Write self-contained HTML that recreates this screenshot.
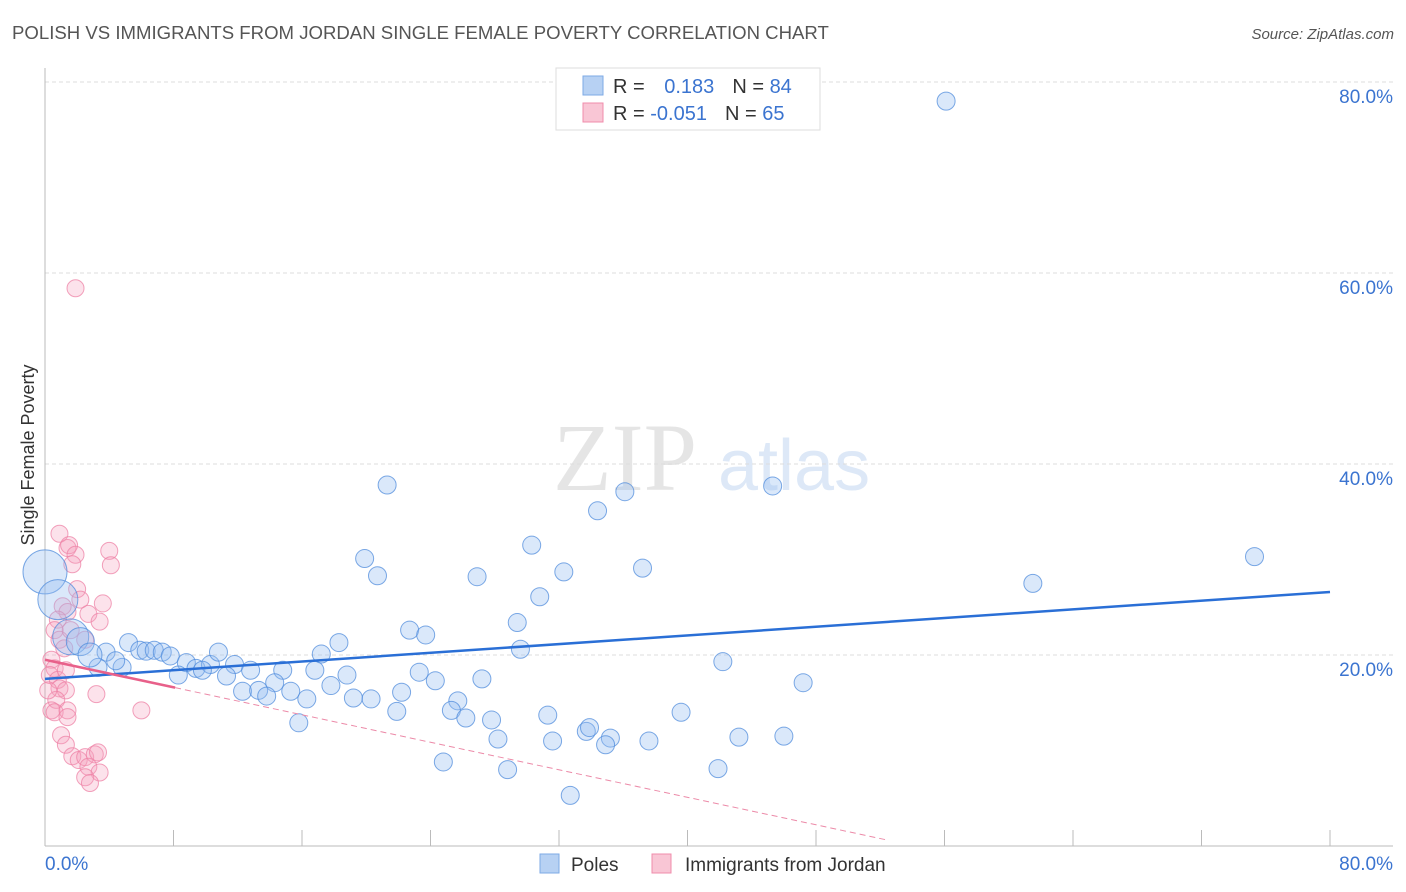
<!DOCTYPE html>
<html><head><meta charset="utf-8"><style>
body{margin:0;background:#fff;font-family:"Liberation Sans",sans-serif}
svg{display:block}
</style></head><body>
<svg id="chart" width="1406" height="892" viewBox="0 0 1406 892">
<text x="12" y="39" font-size="18.6" fill="#555">POLISH VS IMMIGRANTS FROM JORDAN SINGLE FEMALE POVERTY CORRELATION CHART</text>
<text x="1394" y="39" font-size="15" fill="#555" font-style="italic" text-anchor="end">Source: ZipAtlas.com</text>
<g opacity="0.5">
<text x="553" y="490" font-family="Liberation Serif,serif" font-size="96" fill="#ccc">ZIP</text>
<text x="718" y="490" font-size="72" fill="#bcd3f0">atlas</text>
</g>
<g id="grid"></g>
<g id="axes"></g>
<g id="pinkPts"></g>
<g id="bluePts"></g>
<g id="lines"></g>
<text transform="translate(34,455) rotate(-90)" font-size="18" fill="#333" text-anchor="middle">Single Female Poverty</text>
<g>
<rect x="556" y="68" width="264" height="62" fill="#fff" stroke="#ddd"/>
<rect x="583" y="76" width="20" height="19" fill="#b7d1f3" stroke="#7eaae6"/>
<rect x="583" y="103" width="20" height="19" fill="#f9c6d5" stroke="#f08cab"/>
<text x="613" y="93" font-size="20" fill="#333">R = <tspan fill="#3b74d0" dx="14">0.183</tspan><tspan dx="18" fill="#333">N = </tspan><tspan fill="#3b74d0">84</tspan></text>
<text x="613" y="120" font-size="20" fill="#333">R = <tspan fill="#3b74d0">-0.051</tspan><tspan dx="18" fill="#333">N = </tspan><tspan fill="#3b74d0">65</tspan></text>
</g>
<g>
<rect x="540" y="854" width="19" height="19" fill="#b7d1f3" stroke="#7eaae6"/>
<text x="571" y="871" font-size="19" fill="#333">Poles</text>
<rect x="652" y="854" width="19" height="19" fill="#f9c6d5" stroke="#f08cab"/>
<text x="685" y="871" font-size="19" fill="#333">Immigrants from Jordan</text>
</g>
</svg>
<script>
const yTicks=[20,40,60,80];
const xTickLabels=["0.0%","80.0%"];
const blueX=[56.1,21.3,36.1,45.3,34.4,30.3,19.9,75.3,20.7,26.9,32.3,37.2,61.5,30.8,29.4,22.7,23.7,18.3,29.6,17.2,5.2,3.8,5.9,6.3,6.8,7.3,7.8,8.8,9.4,10.3,10.8,11.8,12.8,14.8,16.8,3.3,4.8,4.4,8.3,9.8,11.3,14.3,18.8,23.3,24.3,27.2,42.2,47.2,12.3,13.3,13.8,15.3,16.3,17.8,19.2,20.3,22.2,21.9,25.7,25.3,26.2,27.8,31.3,39.6,15.8,33.7,33.9,35.2,34.9,28.2,31.6,37.6,43.2,46.0,24.8,28.8,41.9,32.7,0,0.8,1.6,2.2,2.8];
const blueY=[78.0,37.8,37.1,37.7,35.1,31.5,30.1,30.3,28.3,28.2,28.7,29.1,27.5,26.1,23.4,22.6,22.1,21.3,20.6,20.1,21.3,20.3,20.5,20.4,20.5,20.3,19.9,19.2,18.6,19.0,20.3,19.0,18.4,18.4,18.4,18.7,18.7,19.4,17.9,18.4,17.8,17.1,17.9,18.2,17.3,17.5,19.3,17.1,16.2,16.3,15.7,16.2,15.4,16.8,15.5,15.4,16.1,14.1,15.2,14.2,13.4,13.2,13.7,14.0,12.9,12.0,12.4,11.3,10.6,11.2,11.0,11.0,11.4,11.5,8.8,8.0,8.1,5.3,28.7,25.8,21.9,21.4,20.0];
const blueR=[9,9,9,9,9,9,9,9,9,9,9,9,9,9,9,9,9,9,9,9,9,9,9,9,9,9,9,9,9,9,9,9,9,9,9,9,9,9,9,9,9,9,9,9,9,9,9,9,9,9,9,9,9,9,9,9,9,9,9,9,9,9,9,9,9,9,9,9,9,9,9,9,9,9,9,9,9,9,22,20,18,14,12];
const pinkX=[1.9,0.9,1.4,1.5,1.9,4.0,4.1,1.7,2.0,2.2,3.6,1.1,1.4,2.7,3.4,0.8,0.6,0.9,1.2,0.4,0.6,0.3,0.8,0.9,1.3,3.2,0.7,0.4,0.6,1.4,1.4,6.0,1.0,1.3,1.7,2.1,2.5,3.1,3.3,2.7,3.4,2.5,2.8,1.3,0.2,1.6,2.5];
const pinkY=[58.4,32.7,31.2,31.5,30.5,30.9,29.4,29.5,26.9,25.8,25.4,25.1,24.5,24.3,23.5,23.7,22.6,21.6,20.7,19.5,18.6,17.9,17.4,16.5,16.3,15.9,15.3,14.2,14.0,14.2,13.5,14.2,11.6,10.6,9.4,9.0,9.3,9.6,9.8,8.3,7.7,7.2,6.6,18.4,16.3,22.6,21.6];
const blueFit=[17.5,26.6];
const pinkFit=[19.5,-0.36];
const pinkSolidEnd=8.1, pinkDashEnd=52.3;
const NS="http://www.w3.org/2000/svg";
const X0=45,X1=1330,Y0=846,Ytop=82;
const sx=v=>X0+(X1-X0)*v/80;
const sy=v=>Y0-(Y0-Ytop)*v/80;
function mk(tag,attrs,parent){const e=document.createElementNS(NS,tag);for(const k in attrs)e.setAttribute(k,attrs[k]);parent.appendChild(e);return e;}
const grid=document.getElementById('grid');
yTicks.forEach(t=>{
  const l=mk('line',{x1:X0,x2:1393,y1:sy(t),y2:sy(t),stroke:'#ddd','stroke-dasharray':'4 3'},grid);
  
  
  const tx=mk('text',{x:1393,y:sy(t)+21,'font-size':19,fill:'#3b74d0','text-anchor':'end'},grid);
  tx.textContent=t.toFixed(1)+'%';
  
  
});
const axes=document.getElementById('axes');
mk('line',{x1:X0,x2:X0,y1:68,y2:Y0,stroke:'#bbb'},axes);
mk('line',{x1:X0,x2:1393,y1:Y0,y2:Y0,stroke:'#bbb'},axes);
for(let i=0;i<=10;i++){const t=mk('line',{x1:sx(i*8),x2:sx(i*8),y1:830,y2:Y0,stroke:'#bbb'},axes);
  
  }
const xl0=mk('text',{x:45,y:870,'font-size':19,fill:'#3b74d0'},axes);xl0.textContent=xTickLabels[0];


const xl1=mk('text',{x:1393,y:870,'font-size':19,fill:'#3b74d0','text-anchor':'end'},axes);xl1.textContent=xTickLabels[1];


const pg=document.getElementById('pinkPts');
pinkX.forEach((x,i)=>{const c=mk('circle',{cx:sx(x),cy:sy(pinkY[i]),r:8.5,fill:'rgba(244,160,190,0.3)',stroke:'rgba(238,130,165,0.75)','stroke-width':1},pg);
  
  });
const bg=document.getElementById('bluePts');
blueX.forEach((x,i)=>{const c=mk('circle',{cx:sx(x),cy:sy(blueY[i]),r:blueR[i],fill:'rgba(150,190,240,0.35)',stroke:'rgba(80,140,220,0.75)','stroke-width':1},bg);
  
  });
const lg=document.getElementById('lines');
const bl=mk('line',{x1:sx(0),y1:sy(blueFit[0]),x2:sx(80),y2:sy(blueFit[1]),stroke:'#2a6fd6','stroke-width':2.5},lg);


const pd=mk('line',{x1:sx(pinkSolidEnd),y1:sy(pinkFit[0]+pinkFit[1]*pinkSolidEnd),x2:sx(pinkDashEnd),y2:sy(pinkFit[0]+pinkFit[1]*pinkDashEnd),stroke:'#ec8aa8','stroke-width':1,'stroke-dasharray':'6 4'},lg);


const ps=mk('line',{x1:sx(0),y1:sy(pinkFit[0]),x2:sx(pinkSolidEnd),y2:sy(pinkFit[0]+pinkFit[1]*pinkSolidEnd),stroke:'#e8608a','stroke-width':2.5},lg);


</script>
</body></html>
